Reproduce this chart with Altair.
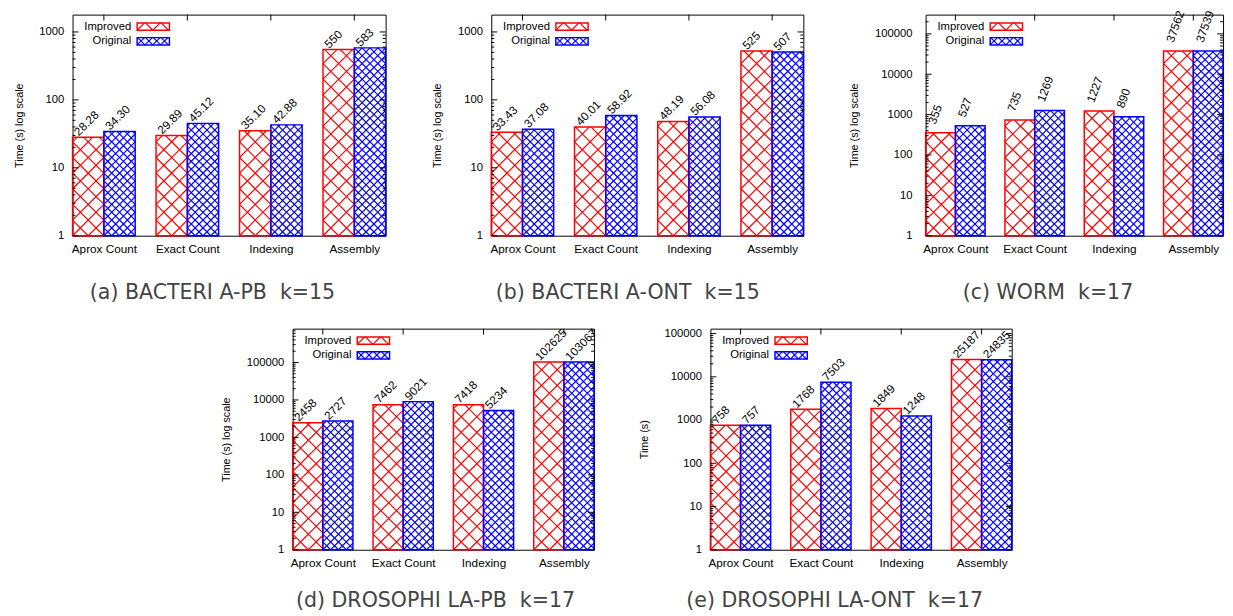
import math
import altair as alt
import pandas as pd

# ---------------- data ----------------
categories = ["Aprox Count", "Exact Count", "Indexing", "Assembly"]
series_names = ["Improved", "Original"]

a_improved = [28.28, 29.89, 35.10, 550]
a_original = [34.30, 45.12, 42.88, 583]
b_improved = [33.43, 40.01, 48.19, 525]
b_original = [37.08, 58.92, 56.08, 507]
c_improved = [355, 735, 1227, 37562]
c_original = [527, 1269, 890, 37539]
d_improved = [2458, 7462, 7418, 102625]
d_original = [2727, 9021, 5234, 103067]
e_improved = [758, 1768, 1849, 25187]
e_original = [757, 7503, 1248, 24835]

a_yticks = [1, 10, 100, 1000]
b_yticks = [1, 10, 100, 1000]
c_yticks = [1, 10, 100, 1000, 10000, 100000]
d_yticks = [1, 10, 100, 1000, 10000, 100000]
e_yticks = [1, 10, 100, 1000, 10000, 100000]

y_max = [1800, 1800, 300000, 800000, 130000]
y_titles = ["Time (s) log scale", "Time (s) log scale", "Time (s) log scale",
            "Time (s) log scale", "Time (s)"]
captions = ["(a) BACTERI A-PB\u00a0\u00a0k=15", "(b) BACTERI A-ONT\u00a0\u00a0k=15",
            "(c) WORM\u00a0\u00a0k=17", "(d) DROSOPHI LA-PB\u00a0\u00a0k=17",
            "(e) DROSOPHI LA-ONT\u00a0\u00a0k=17"]

# ---------------- style ----------------
FONT = "Liberation Sans"
CAP_FONT = "DejaVu Sans"
COLORS = ["#ff0000", "#0000ff"]
HATCH_P = [16.0, 8.0]
GROUP = 8.0 / 3.0
XMAX = 10.0
H = 226


def fmt_value(v):
    return str(int(v)) if float(v).is_integer() else f"{v:.2f}"


def hatch(x0, x1, h, p):
    """45 degree cross-hatch segments inside [x0,x1] x [0,h] (y up)."""
    segs = []
    w = x1 - x0
    for k in range(int(math.floor(-w / p)) - 1, int(math.ceil(h / p)) + 2):
        c = k * p
        xa = max(x0, x0 - c)
        xb = min(x1, x0 + h - c)
        if xb - xa > 0.05:
            segs.append((xa, xa - x0 + c, xb, xb - x0 + c))
    for k in range(0, int(math.ceil((h + w) / p)) + 2):
        c = k * p
        xa = max(x0, x0 + c - h)
        xb = min(x1, x0 + c)
        if xb - xa > 0.05:
            segs.append((xa, c - (xa - x0), xb, c - (xb - x0)))
    return segs


def panel(imp, orig, ytop, yticks, W, ytitle, caption, cap_dx, cap_off,
          lab_angle=315, lab_dx=5, lab_dy=4, ylab_pad=9):
    L = math.log10(ytop)
    ppu = W / XMAX
    xs = alt.Scale(domain=[0, XMAX], nice=False, zero=False)
    ys = alt.Scale(type="log", domain=[1, ytop], nice=False)

    def yd(up):  # pixel height above bottom -> data value
        return 10 ** (up * L / H)

    bars = []
    for i, cat in enumerate(categories):
        for s, vals in enumerate([imp, orig]):
            x0 = i * GROUP + s
            bars.append(dict(cat=cat, series=series_names[s], v=vals[i],
                             lab=fmt_value(vals[i]),
                             x0=x0, x1=x0 + 1, col=COLORS[s], s=s))
    bdf = pd.DataFrame(bars)

    hrows = []
    for b in bars:
        h = H * math.log10(b["v"]) / L
        for (xa, ya, xb, yb) in hatch(b["x0"] * ppu, b["x1"] * ppu, h, HATCH_P[b["s"]]):
            hrows.append(dict(x=xa / ppu, y=yd(ya), x2=xb / ppu, y2=yd(yb), col=b["col"]))
    keys = []
    for s in range(2):
        top = 8.5 + 15 * s
        bot = top + 7.5
        keys.append(dict(series=series_names[s], col=COLORS[s],
                         kx0=66 / ppu, kx1=99 / ppu, ky0=yd(H - bot), ky1=yd(H - top),
                         ty=yd(H - (top + bot) / 2)))
        for (xa, ya, xb, yb) in hatch(66, 99, bot - top, HATCH_P[s]):
            hrows.append(dict(x=xa / ppu, y=yd(H - bot + ya), x2=xb / ppu,
                              y2=yd(H - bot + yb), col=COLORS[s]))
    hdf = pd.DataFrame(hrows)
    kdf = pd.DataFrame(keys)

    centers = [i * GROUP + 1 for i in range(len(categories))]
    cat_js = "[" + ",".join("'" + c + "'" for c in categories) + "]"
    label_expr = f"{cat_js}[round((datum.value - 1) / {GROUP})]"

    x_axis = alt.Axis(values=centers, labelExpr=label_expr, title=None,
                      labelPadding=8, labelFlush=False, labelAngle=0, labelFontSize=12)
    y_axis = alt.Axis(values=yticks, format="d", title=ytitle,
                      labelPadding=ylab_pad, titlePadding=15)

    def X(f):
        return alt.X(f, scale=xs, axis=x_axis)

    def Y(f):
        return alt.Y(f, scale=ys, axis=y_axis)

    hatch_layer = alt.Chart(hdf).mark_rule(strokeWidth=1.2).encode(
        x=X("x:Q"), x2="x2:Q", y=Y("y:Q"), y2="y2:Q",
        color=alt.Color("col:N", scale=None, legend=None),
    )
    outline = alt.Chart(bdf).mark_rect(fill="transparent", strokeWidth=1.5).encode(
        x=X("x0:Q"), x2="x1:Q", y=Y("v:Q"), y2=alt.datum(1),
        stroke=alt.Stroke("col:N", scale=None, legend=None),
    )
    labels = alt.Chart(bdf).mark_text(
        angle=lab_angle, align="left", baseline="alphabetic", dx=lab_dx, dy=lab_dy,
        font=FONT, fontSize=12, color="black"
    ).encode(x=X("x0:Q"), y=Y("v:Q"), text="lab:N")

    minor = []
    for k in range(0, int(math.ceil(L)) + 1):
        for m in range(2, 10):
            v = m * 10 ** k
            if v < ytop:
                minor.append(v)
    major_df = pd.DataFrame({"t": yticks})
    minor_df = pd.DataFrame({"t": minor})
    tick_layers = []
    for df, ln in [(major_df, 6), (minor_df, 3)]:
        tick_layers.append(alt.Chart(df).mark_rule(color="black", strokeWidth=1).encode(
            y=Y("t:Q"), x=alt.value(0), x2=alt.value(ln)))
        tick_layers.append(alt.Chart(df).mark_rule(color="black", strokeWidth=1).encode(
            y=Y("t:Q"), x=alt.value(W - ln), x2=alt.value(W)))
    top_ticks = alt.Chart(pd.DataFrame({"c": centers})).mark_rule(
        color="black", strokeWidth=1).encode(
        x=X("c:Q"), y=alt.value(0), y2=alt.value(6))

    key_text = alt.Chart(kdf).mark_text(
        align="right", baseline="middle", font=FONT, fontSize=11.5, color="black", dx=-6
    ).encode(x=X("kx0:Q"), y=Y("ty:Q"), text="series:N")
    key_box = alt.Chart(kdf).mark_rect(fill="transparent", strokeWidth=1.5).encode(
        x=X("kx0:Q"), x2="kx1:Q", y=Y("ky0:Q"), y2="ky1:Q",
        stroke=alt.Stroke("col:N", scale=None, legend=None))

    layers = [hatch_layer, outline, labels] + tick_layers + [top_ticks, key_text, key_box]
    return alt.layer(*layers).properties(
        width=W, height=H,
        title=alt.TitleParams(caption, orient="bottom", anchor="middle", frame="group",
                              offset=cap_off, dx=cap_dx, fontSize=21, font=CAP_FONT,
                              fontWeight="normal", color="#444444"),
    )


pa = panel(a_improved, a_original, y_max[0], a_yticks, 320, y_titles[0], captions[0], -17, 29)
pb = panel(b_improved, b_original, y_max[1], b_yticks, 319, y_titles[1], captions[1], -20, 29)
pc = panel(c_improved, c_original, y_max[2], c_yticks, 304, y_titles[2], captions[2], -27, 29,
           lab_angle=290, lab_dx=11, lab_dy=6.7, ylab_pad=14)
pd_ = panel(d_improved, d_original, y_max[3], d_yticks, 308, y_titles[3], captions[3], -8, 23)
pe = panel(e_improved, e_original, y_max[4], e_yticks, 308, y_titles[4], captions[4], -27, 23)

spacer = alt.Chart(pd.DataFrame({"z": [0]})).mark_point(opacity=0).encode(
    x=alt.value(5), y=alt.value(5)
).properties(width=111, height=H, view=alt.ViewBackground(stroke="transparent"))

top_row = alt.hconcat(pa, pb, pc, spacing=44)
bottom_row = alt.hconcat(spacer, pd_, pe, spacing=39)

chart = alt.vconcat(top_row, bottom_row, spacing=22).properties(
    padding={"left": 4, "top": -7, "right": 0, "bottom": 0}
).configure_view(stroke="black", strokeWidth=1).configure_axis(
    labelFont=FONT, labelFontSize=11.5, labelColor="black",
    titleFont=FONT, titleFontSize=11, titleFontWeight="normal", titleColor="black",
    grid=False, ticks=False, domain=False,
)

chart.save("out.html", embed_options={"renderer": "svg", "actions": False})
